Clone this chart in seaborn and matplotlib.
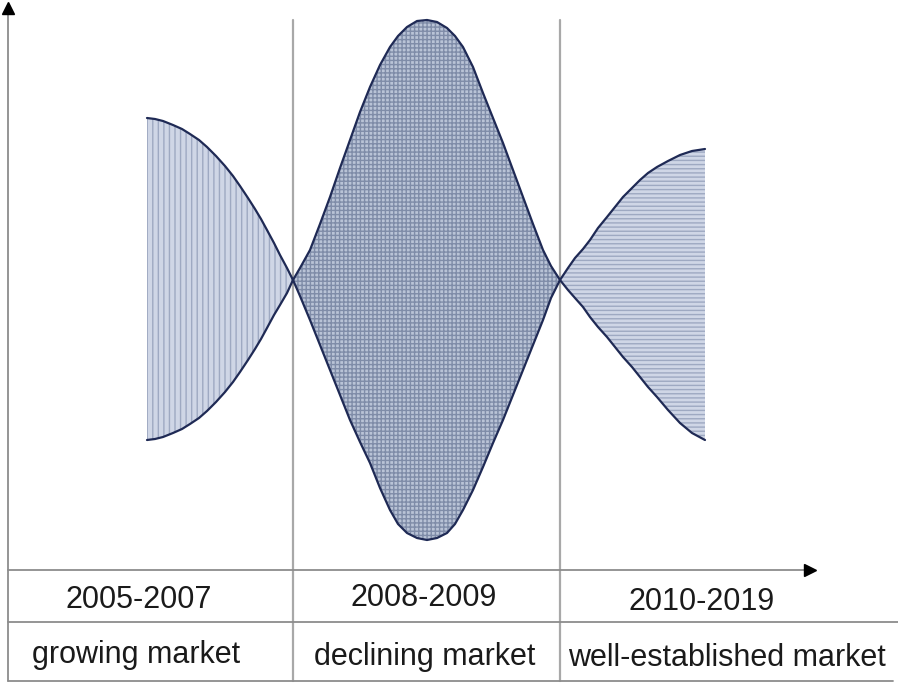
import numpy as np
import pandas as pd
import matplotlib
matplotlib.use("Agg")
import matplotlib.pyplot as plt
import seaborn as sns

sns.set_style("white")
plt.rcParams['font.family'] = ['Liberation Sans', 'DejaVu Sans']

# periods and stage names
periods = ["2005-2007", "2008-2009", "2010-2019"]
stages = ["growing market", "declining market", "well-established market"]

# curve readings (x = time position, y = height above time axis)
x_grow = [139, 147, 155, 165, 174, 182, 191, 199, 208, 217, 225, 232, 240, 247, 253, 259, 266, 272, 279, 285]
up_grow = [452, 451, 449, 445, 441, 436, 430, 423, 414, 404, 394, 384, 372, 361, 351, 340, 327, 315, 302, 290]
lo_grow = [130, 131, 133, 137, 141, 146, 152, 159, 168, 178, 188, 198, 210, 221, 231, 242, 255, 265, 277, 290]

x_decl = [285, 292, 302, 312, 322, 332, 342, 352, 362, 372, 382, 390, 399, 409, 419,
          429, 439, 447, 455, 465, 475, 485, 495, 505, 515, 525, 535, 543, 552]
up_decl = [290, 302, 320, 346, 373, 402, 430, 458, 483, 505, 523, 534, 543, 549, 550,
           548, 542, 534, 523, 503, 477, 452, 427, 400, 373, 346, 320, 304, 290]
lo_decl = [290, 274, 250, 225, 200, 175, 150, 128, 107, 82, 60, 46, 37, 32, 30,
           32, 37, 46, 60, 80, 103, 127, 150, 175, 200, 225, 250, 272, 290]

x_est = [552, 560, 567, 575, 582, 590, 599, 607, 615, 624, 632, 640, 649, 660, 672, 684, 697]
up_est = [290, 302, 312, 321, 330, 342, 353, 363, 373, 382, 390, 397, 403, 409, 415, 419, 421]
lo_est = [290, 280, 272, 263, 253, 243, 233, 223, 213, 203, 193, 183, 173, 160, 147, 137, 130]

fig = plt.figure(figsize=(8.98, 6.92), dpi=100)
ax = fig.add_axes([0, 0, 1, 1])

line_col = '#1f2a55'
segments = [
    (x_grow, up_grow, lo_grow, '#cfd6e6', '#9ea9c2', '|||'),
    (x_decl, up_decl, lo_decl, '#b9c3d6', '#7f8ca8', '++++'),
    (x_est, up_est, lo_est, '#cfd6e6', '#9ea9c2', '----'),
]
for xs, up, lo, face, hcol, hatch in segments:
    ax.fill_between(xs, lo, up, facecolor=face, edgecolor=hcol, hatch=hatch,
                    linewidth=0, zorder=1)
    df = pd.DataFrame({'x': xs, 'up': up, 'lo': lo})
    sns.lineplot(data=df, x='x', y='up', color=line_col, lw=1.6, sort=False,
                 estimator=None, ax=ax, zorder=3)
    sns.lineplot(data=df, x='x', y='lo', color=line_col, lw=1.6, sort=False,
                 estimator=None, ax=ax, zorder=3)
ax.set_xlim(-8, 890)
ax.set_ylim(-122, 570)
ax.axis('off')

# separators between periods
for xv in [285, 552]:
    ax.plot([xv, xv], [-111, 550], color='#a8a8a8', lw=1.6, zorder=2)

# axes with arrows
axis_col = '#8c8c8c'
ax.plot([0, 0], [-111, 560], color=axis_col, lw=1.3)
ax.plot([0, 804], [0, 0], color=axis_col, lw=1.3)
ax.plot([0], [562], marker='^', color='black', markersize=8, clip_on=False)
ax.plot([802], [0], marker='>', color='black', markersize=8, clip_on=False)
ax.plot([0, 890], [-52, -52], color=axis_col, lw=1.3)
ax.plot([0, 885], [-111, -111], color=axis_col, lw=1.3)

# table text
period_pos = [(131, -30), (416, -28), (694, -32)]
stage_pos = [(128, -85), (417, -87), (719, -88)]
for txt, (px, py) in zip(periods, period_pos):
    ax.text(px, py, txt, ha='center', va='center', fontsize=22, color='#1a1a1a')
for txt, (px, py) in zip(stages, stage_pos):
    ax.text(px, py, txt, ha='center', va='center', fontsize=22, color='#1a1a1a')

fig.savefig('out.png', dpi=100)
